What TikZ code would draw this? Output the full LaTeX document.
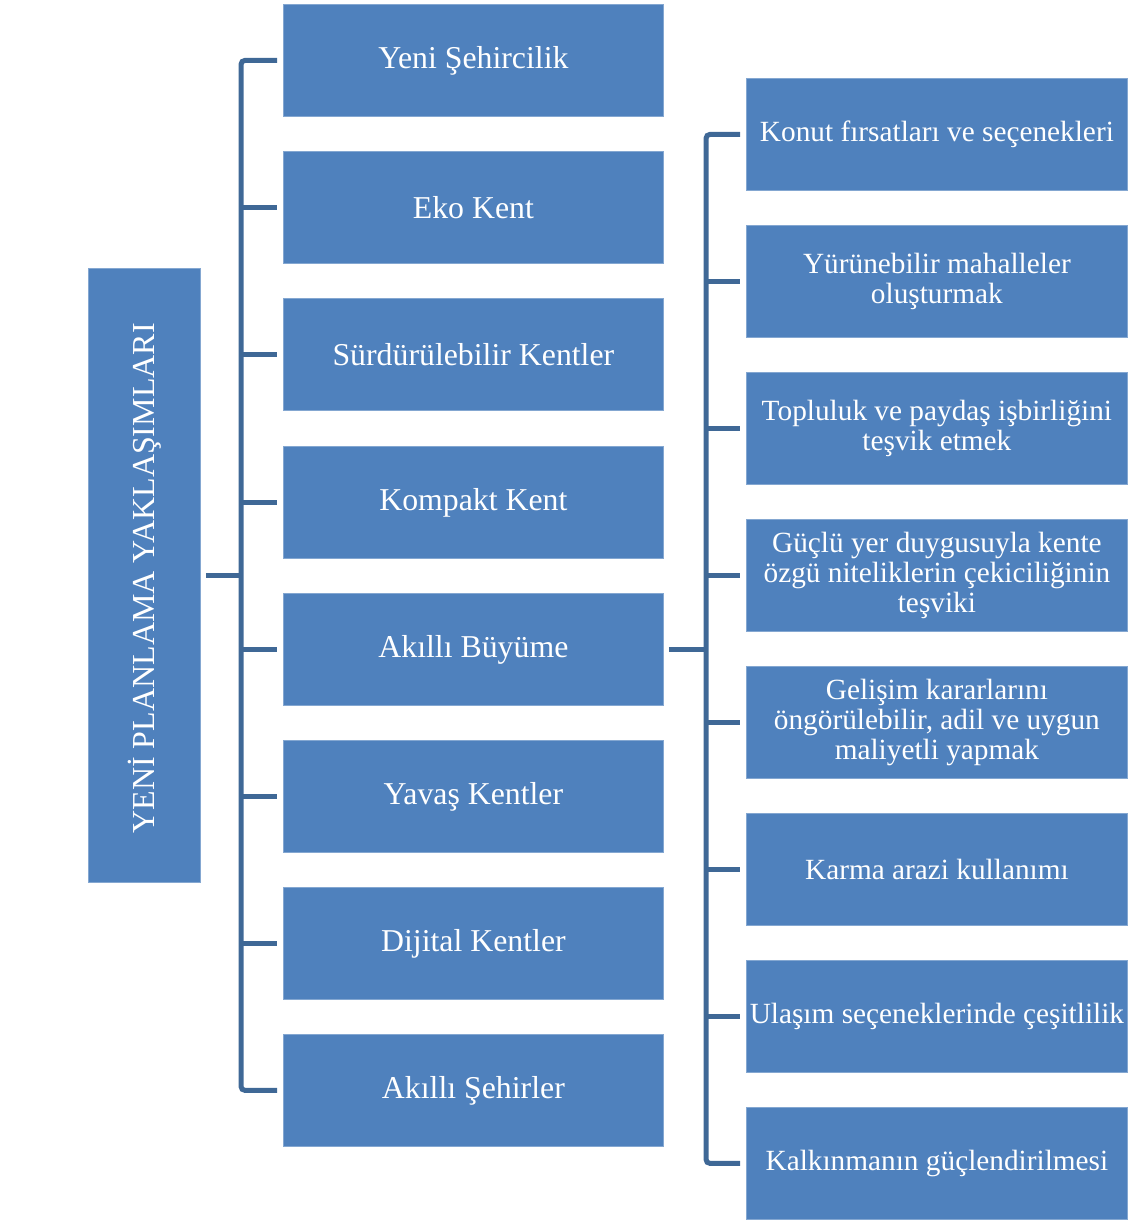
\documentclass[tikz,border=0pt]{standalone}
\usepackage{fontspec}
\setmainfont{Liberation Serif}
\definecolor{boxblue}{HTML}{4F81BD}
\definecolor{linkblue}{HTML}{3F6896}
\begin{document}
\begin{tikzpicture}[x=1pt,y=-1pt,
  box/.style={fill=boxblue,draw=boxblue!70!white,line width=0.8pt,text=white,
    inner sep=0pt,anchor=north west,align=center,
    font=\fontsize{29.3}{30}\selectfont},
  midbox/.style={box,minimum width=380pt,minimum height=112pt,
    font=\fontsize{31.8}{34}\selectfont},
  sidebox/.style={box,minimum width=381pt,minimum height=112pt},
  link/.style={draw=linkblue,line width=5pt},
  trunk/.style={link,rounded corners=4pt}]
\useasboundingbox (0,0) rectangle (1129,1220);

% root box with vertical title
\node[box,minimum width=112pt,minimum height=614pt] (L) at (88,268) {};
\node[text=white,font=\fontsize{32}{34}\selectfont,rotate=90] (Lt) at ([yshift=-3pt]L.center) {YENİ PLANLAMA YAKLAŞIMLARI};

% approaches column
\node[midbox] (m1) at (283,4)    {Yeni Şehircilik};
\node[midbox] (m2) at (283,151)  {Eko Kent};
\node[midbox] (m3) at (283,298)  {Sürdürülebilir Kentler};
\node[midbox] (m4) at (283,446)  {Kompakt Kent};
\node[midbox] (m5) at (283,593)  {Akıllı Büyüme};
\node[midbox] (m6) at (283,740)  {Yavaş Kentler};
\node[midbox] (m7) at (283,887)  {Dijital Kentler};
\node[midbox] (m8) at (283,1034) {Akıllı Şehirler};

% smart growth principles column
\node[sidebox] (r1) at (746,78)   {Konut fırsatları ve seçenekleri};
\node[sidebox] (r2) at (746,225)  {Yürünebilir mahalleler\\oluşturmak};
\node[sidebox] (r3) at (746,372)  {Topluluk ve paydaş işbirliğini\\teşvik etmek};
\node[sidebox] (r4) at (746,519)  {Güçlü yer duygusuyla kente\\özgü niteliklerin çekiciliğinin\\teşviki};
\node[sidebox] (r5) at (746,666)  {Gelişim kararlarını\\öngörülebilir, adil ve uygun\\maliyetli yapmak};
\node[sidebox] (r6) at (746,813)  {Karma arazi kullanımı};
\node[sidebox] (r7) at (746,960)  {Ulaşım seçeneklerinde çeşitlilik};
\node[sidebox] (r8) at (746,1107) {Kalkınmanın güçlendirilmesi};

% left bracket
\coordinate (lx) at (241,0);
\draw[trunk] ([xshift=-6pt]m1.west) -- (lx |- m1.west) -- (lx |- m8.west) -- ([xshift=-6pt]m8.west);
\draw[link] ([xshift=5pt]L.east) -- (lx |- L.east);
\foreach \i in {2,...,7} {
  \draw[link] (lx |- m\i.west) -- ([xshift=-6pt]m\i.west);
}

% right bracket
\coordinate (rx) at (706,0);
\draw[trunk] ([xshift=-6pt]r1.west) -- (rx |- r1.west) -- (rx |- r8.west) -- ([xshift=-6pt]r8.west);
\draw[link] ([xshift=5pt]m5.east) -- (rx |- m5.east);
\foreach \i in {2,...,7} {
  \draw[link] (rx |- r\i.west) -- ([xshift=-6pt]r\i.west);
}
\end{tikzpicture}
\end{document}
